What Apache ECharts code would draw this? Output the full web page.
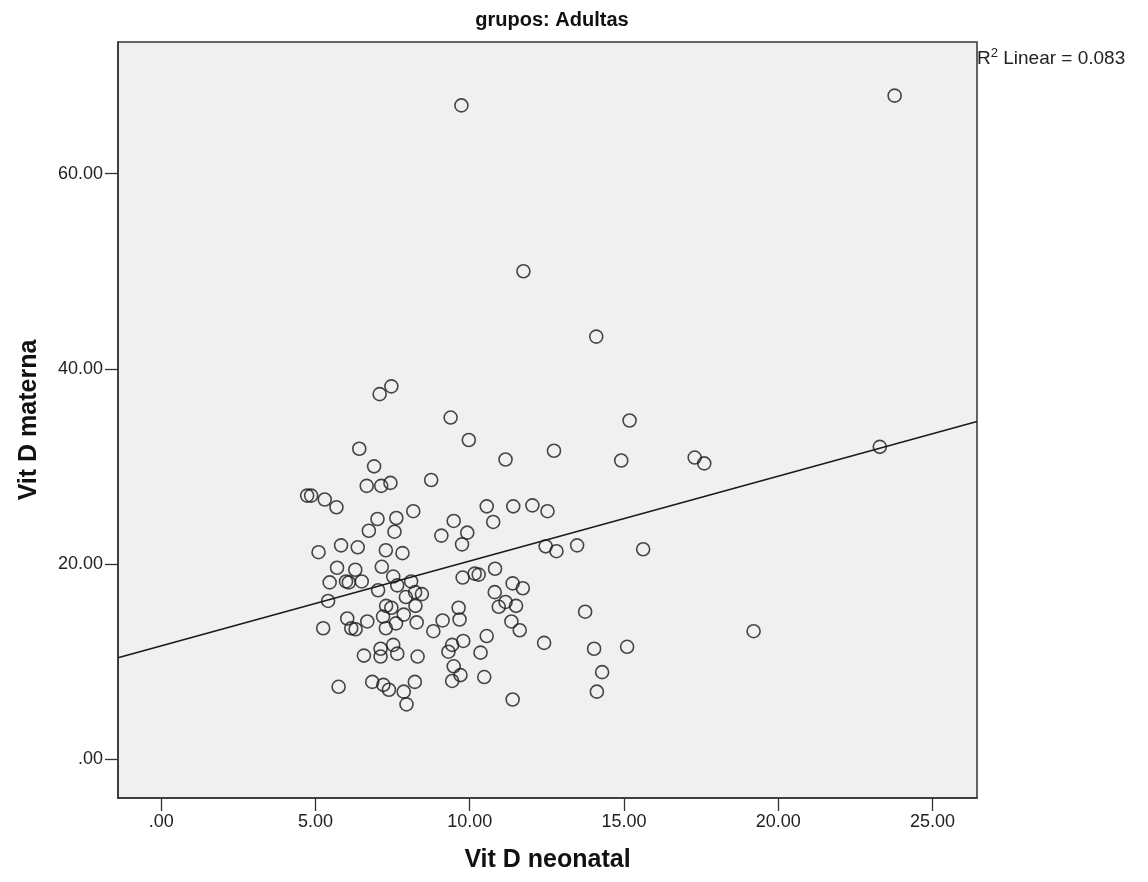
<!DOCTYPE html>
<html lang="es">
<head>
    <meta charset="UTF-8">
    <title>grupos: Adultas</title>
    <style>
        html, body {
            margin: 0;
            height: 100%;
            background: #fff;
        }
        #main {
            width: 1148px;
            height: 882px;
        }
    </style>
</head>
<body>
<script src="https://cdn.jsdelivr.net/npm/echarts@6/dist/echarts.min.js"></script>
<div id="main"></div>
<script>
    // Vit D neonatal (x) / Vit D materna (y)
    var vitDNeonatal = [
        9.73, 23.77, 11.74, 14.10,
        7.46, 7.08, 9.38, 9.97, 6.42, 11.16, 6.90, 8.75, 6.66, 7.13, 7.43, 4.73, 4.86, 5.30, 5.68, 8.17,
        10.55, 11.41, 12.03, 10.76, 9.48, 9.92, 9.08, 9.75, 7.01, 7.62, 6.73, 7.56, 5.10, 5.83, 6.37, 7.28,
        7.82, 5.70, 6.29, 7.15, 10.82,
        5.46, 5.99, 6.08, 6.50, 7.52, 7.65, 8.10, 7.03, 7.93, 8.23, 8.45, 5.41, 7.29, 7.46, 8.24, 9.77,
        10.16, 10.29, 11.39, 11.72, 10.81, 11.16, 10.94, 11.50, 11.35, 11.62, 6.03, 6.16, 6.30, 6.68, 5.25,
        7.19, 7.28, 7.61, 7.86, 8.28, 8.82, 9.12, 9.64, 9.67, 10.55, 9.79, 9.43, 9.31, 10.35, 9.48, 9.70,
        9.43, 10.47, 11.39, 6.57, 7.11, 7.11, 7.52, 7.65, 8.31, 5.75, 6.84, 7.20, 7.38, 7.86, 8.22, 7.95,
        15.18, 12.73, 14.91, 17.29, 17.60, 12.52, 12.46, 12.81, 13.48, 15.62, 13.74, 12.41, 14.03, 15.10,
        14.29, 14.12, 19.20, 23.29
    ];
    var vitDMaterna = [
        67.0, 68.0, 50.0, 43.3,
        38.2, 37.4, 35.0, 32.7, 31.8, 30.7, 30.0, 28.6, 28.0, 28.0, 28.3, 27.0, 27.0, 26.6, 25.8, 25.4,
        25.9, 25.9, 26.0, 24.3, 24.4, 23.2, 22.9, 22.0, 24.6, 24.7, 23.4, 23.3, 21.2, 21.9, 21.7, 21.4,
        21.1, 19.6, 19.4, 19.7, 19.5,
        18.1, 18.2, 18.1, 18.2, 18.7, 17.8, 18.2, 17.3, 16.6, 17.1, 16.9, 16.2, 15.7, 15.5, 15.7, 18.6,
        19.0, 18.9, 18.0, 17.5, 17.1, 16.1, 15.6, 15.7, 14.1, 13.2, 14.4, 13.4, 13.3, 14.1, 13.4,
        14.6, 13.4, 13.9, 14.8, 14.0, 13.1, 14.2, 15.5, 14.3, 12.6, 12.1, 11.7, 11.0, 10.9, 9.5, 8.6,
        8.0, 8.4, 6.1, 10.6, 11.3, 10.5, 11.7, 10.8, 10.5, 7.4, 7.9, 7.6, 7.1, 6.9, 7.9, 5.6,
        34.7, 31.6, 30.6, 30.9, 30.3, 25.4, 21.8, 21.3, 21.9, 21.5, 15.1, 11.9, 11.3, 11.5,
        8.9, 6.9, 13.1, 32.0
    ];

    var xTicks = [0, 5, 10, 15, 20, 25];
    var yTicks = [0, 20, 40, 60];

    // recta de ajuste lineal (R2 = 0.083)
    var fitIntercept = 11.6;
    var fitSlope = 0.87;
    var rSquared = '0.083';

    var xMin = -1.4, xMax = 26.44;
    var yMin = -4, yMax = 73.5;

    function fmt(v) {
        return v === 0 ? '.00' : v.toFixed(2);
    }

    var points = [];
    for (var i = 0; i < vitDNeonatal.length; i++) {
        points.push([vitDNeonatal[i], vitDMaterna[i]]);
    }

    var chart = echarts.init(document.getElementById('main'));
    var axisColor = '#333';
    var option = {
        backgroundColor: '#fff',
        animation: false,
        title: {
            text: 'grupos: Adultas',
            left: 547,
            top: 5,
            textAlign: 'center',
            textStyle: {
                fontFamily: 'Arial, sans-serif',
                fontSize: 20,
                fontWeight: 'bold',
                color: '#111'
            }
        },
        grid: {
            left: 118,
            right: 171,
            top: 42,
            bottom: 84,
            show: true,
            backgroundColor: '#f0f0f0',
            borderColor: axisColor,
            borderWidth: 1.5
        },
        xAxis: {
            type: 'value',
            min: xMin,
            max: xMax,
            name: 'Vit D neonatal',
            nameLocation: 'middle',
            nameGap: 50,
            nameTextStyle: {
                fontFamily: 'Arial, sans-serif',
                fontSize: 25,
                fontWeight: 'bold',
                color: '#111'
            },
            splitLine: {show: false},
            axisLine: {show: true, onZero: false, lineStyle: {color: axisColor, width: 1.5}},
            axisTick: {show: true, inside: false, customValues: xTicks, length: 13, lineStyle: {color: axisColor, width: 1.3}},
            axisLabel: {
                customValues: xTicks,
                formatter: fmt,
                margin: 15,
                fontFamily: 'Arial, sans-serif',
                fontSize: 18,
                color: '#222'
            }
        },
        yAxis: {
            type: 'value',
            min: yMin,
            max: yMax,
            name: 'Vit D materna',
            nameLocation: 'middle',
            nameGap: 76,
            nameTextStyle: {
                fontFamily: 'Arial, sans-serif',
                fontSize: 25,
                fontWeight: 'bold',
                color: '#111'
            },
            splitLine: {show: false},
            axisLine: {show: true, onZero: false, lineStyle: {color: axisColor, width: 1.5}},
            axisTick: {show: true, inside: false, customValues: yTicks, length: 13, lineStyle: {color: axisColor, width: 1.3}},
            axisLabel: {
                customValues: yTicks,
                formatter: fmt,
                margin: 15,
                fontFamily: 'Arial, sans-serif',
                fontSize: 18,
                color: '#222'
            }
        },
        graphic: [{
            type: 'text',
            left: 977,
            top: 47,
            style: {
                text: 'R{sup|2} Linear = ' + rSquared,
                fontFamily: 'Arial, sans-serif',
                fontSize: 19,
                fill: '#222',
                rich: {
                    sup: {fontSize: 13, verticalAlign: 'top', padding: [0, 0, 10, 0]}
                }
            }
        }],
        series: [
            {
                type: 'line',
                silent: true,
                symbol: 'none',
                lineStyle: {color: '#1a1a1a', width: 1.6},
                data: [
                    [xMin, fitIntercept + fitSlope * xMin],
                    [xMax, fitIntercept + fitSlope * xMax]
                ],
                z: 1
            },
            {
                type: 'scatter',
                symbol: 'circle',
                symbolSize: 13,
                itemStyle: {
                    color: 'rgba(0,0,0,0)',
                    borderColor: '#1a1a1a',
                    borderWidth: 1.6
                },
                data: points,
                z: 2
            }
        ]
    };
    chart.setOption(option);
</script>
</body>
</html>
